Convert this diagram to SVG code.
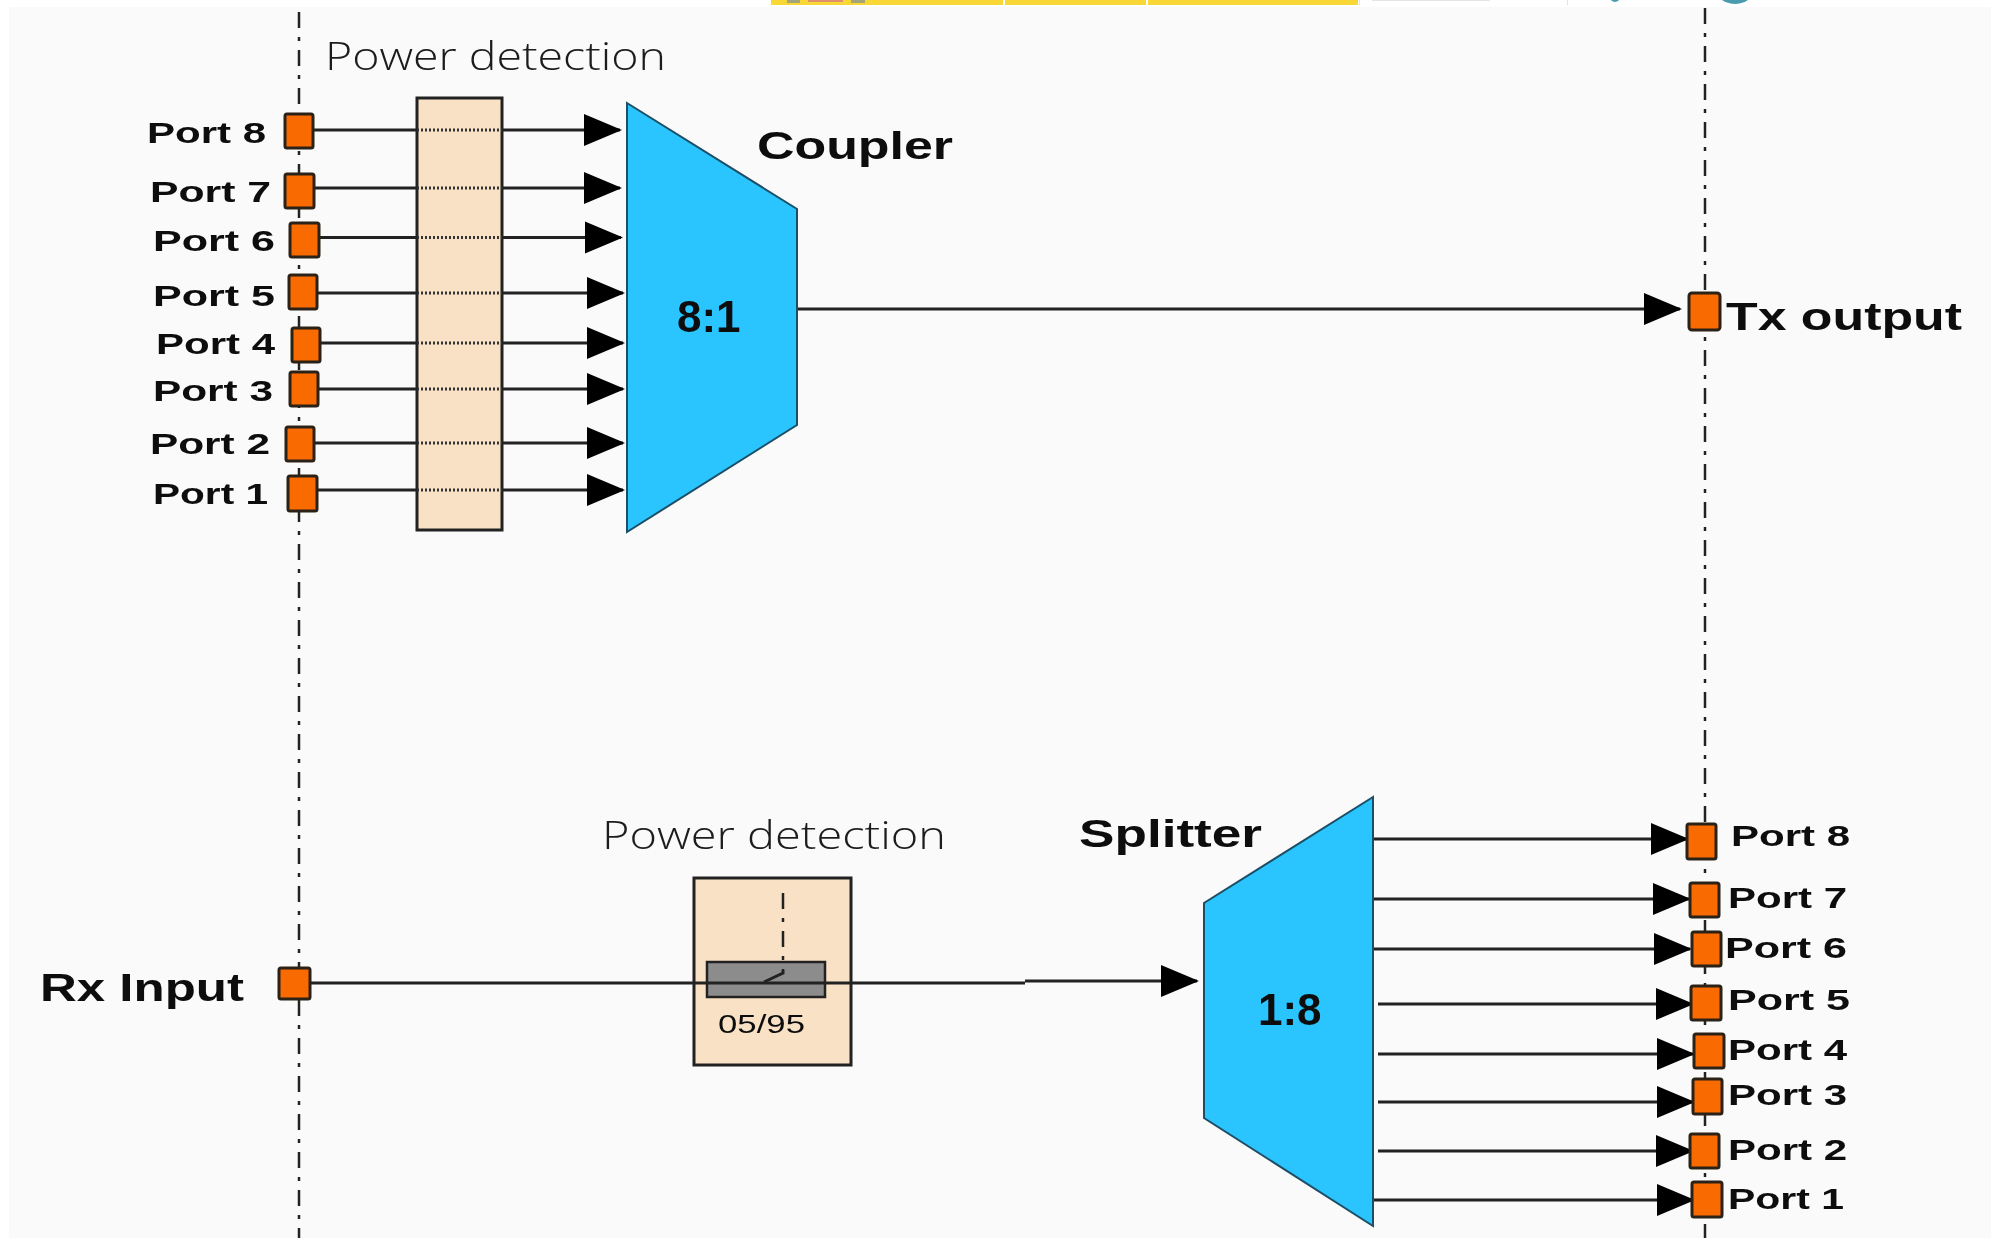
<svg xmlns="http://www.w3.org/2000/svg" width="1991" height="1238" viewBox="0 0 1991 1238">
<style>
text{font-family:"Liberation Sans",Arial,sans-serif;fill:#0c0c0c}
.p{font-size:29px;font-weight:700}
.big{font-size:38px;font-weight:700}
.r{font-size:44px;font-weight:700}
.t{font-family:"Open Sans","Liberation Sans",sans-serif;font-weight:300;font-size:38px;fill:#1c1c1c}
.box{fill:#f96a00;stroke:#2a2018;stroke-width:3}
.mux{fill:#29c5ff;stroke:#1f4f66;stroke-width:2}
.pd{fill:#f8e1c4;stroke:#222;stroke-width:3}
.c{stroke:#222;stroke-width:3;fill:none}
.a{marker-end:url(#h)}
.d{stroke:#333;stroke-width:3;stroke-dasharray:2 2;fill:none}
.v{stroke:#222;stroke-width:2.5;stroke-dasharray:16 9 4 9;fill:none}
</style>
<defs>
<marker id="h" markerUnits="userSpaceOnUse" markerWidth="38" markerHeight="34" refX="36" refY="17" orient="auto"><path d="M0 1L38 17L0 33Z" fill="#000"/></marker>
<filter id="s" x="-2%" y="-2%" width="104%" height="104%"><feGaussianBlur stdDeviation="0.7"/></filter>
</defs>
<rect id="page" width="1991" height="1238" fill="#fff"/>
<rect id="panel" x="9" y="7" width="1982" height="1231" fill="#fafafa"/>
<g id="header-strip">
<rect x="771" y="0" width="232" height="5" fill="#f9d835"/>
<rect x="1005" y="0" width="141" height="5" fill="#f9d835"/>
<rect x="1148" y="0" width="210" height="5" fill="#f9d835"/>
<rect x="787" y="0" width="13" height="3" fill="#a3a578"/>
<rect x="808" y="0" width="35" height="2" fill="#e0906a"/>
<rect x="851" y="0" width="14" height="3" fill="#a3a578"/>
<rect x="1372" y="0" width="118" height="1" fill="#e4e4e4"/>
<rect x="1359" y="0" width="1" height="5" fill="#e4e4e4"/>
<rect x="1567" y="0" width="1" height="5" fill="#e4e4e4"/>
<circle cx="1615" cy="-3" r="5" fill="#4a9ab0"/>
<circle cx="1735" cy="-19" r="23" fill="#4a9ab0"/>
</g>
<g filter="url(#s)">
<g id="reference-lines">
<line class="v" x1="299" y1="12" x2="299" y2="1238"/>
<line class="v" x1="1705" y1="8" x2="1705" y2="1238"/>
</g>
<g id="power-detection-tx">
<rect class="pd" x="417" y="98" width="85" height="432"/>
<text class="t" x="325" y="70" textLength="341" lengthAdjust="spacingAndGlyphs">Power detection</text>
<path class="d" d="M417 130H502M417 188H502M417 237.500H502M417 293H502M417 343H502M417 389H502M417 443H502M417 490H502"/>
</g>
<g id="power-detection-rx">
<rect class="pd" x="694" y="878" width="157" height="187"/>
<rect x="707" y="962" width="118" height="35" fill="#8c8c8c" stroke="#222" stroke-width="2.500"/>
<text class="t" x="602" y="849" textLength="344" lengthAdjust="spacingAndGlyphs">Power detection</text>
<text x="718" y="1033" font-size="25" fill="#333" textLength="87" lengthAdjust="spacingAndGlyphs">05/95</text>
</g>
<g id="connectors">
<path class="c" d="M313 130H417M315 188H417M319 237.500H417M317 293H417M320 343H417M318 389H417M315 443H417M317 490H417"/>
<line class="c a" x1="502" y1="130" x2="620" y2="130"/>
<line class="c a" x1="502" y1="188" x2="620" y2="188"/>
<line class="c a" x1="502" y1="237.500" x2="621" y2="237.500"/>
<line class="c a" x1="502" y1="293" x2="623" y2="293"/>
<line class="c a" x1="502" y1="343" x2="623" y2="343"/>
<line class="c a" x1="502" y1="389" x2="623" y2="389"/>
<line class="c a" x1="502" y1="443" x2="623" y2="443"/>
<line class="c a" x1="502" y1="490" x2="623" y2="490"/>
<line class="c a" x1="797" y1="309" x2="1680" y2="309"/>
<line class="c" x1="310" y1="983" x2="1025" y2="983" stroke-width="2.500"/>
<line class="c a" x1="1025" y1="981" x2="1197" y2="981"/>
<line class="v" x1="783" y1="893" x2="783" y2="970"/>
<path class="c" d="M783 970V973L764 982" stroke-width="2.500"/>
<line class="c a" x1="1373" y1="839" x2="1687" y2="839"/>
<line class="c a" x1="1373" y1="899" x2="1689" y2="899"/>
<line class="c a" x1="1373" y1="949" x2="1690" y2="949"/>
<line class="c a" x1="1378" y1="1004" x2="1692" y2="1004"/>
<line class="c a" x1="1378" y1="1054" x2="1693" y2="1054"/>
<line class="c a" x1="1378" y1="1102" x2="1693" y2="1102"/>
<line class="c a" x1="1378" y1="1151" x2="1692" y2="1151"/>
<line class="c a" x1="1373" y1="1200" x2="1693" y2="1200"/>
</g>
<g id="coupler">
<path class="mux" d="M627 103L797 209V425L627 532Z"/>
<text class="r" x="677" y="332">8:1</text>
<text class="big" x="757" y="159" textLength="196" lengthAdjust="spacingAndGlyphs">Coupler</text>
</g>
<g id="splitter">
<path class="mux" d="M1373 797L1204 903V1118L1373 1226Z"/>
<text class="r" x="1258" y="1025">1:8</text>
<text class="big" x="1079" y="847" textLength="183" lengthAdjust="spacingAndGlyphs">Splitter</text>
</g>
<g id="tx-port-8"><rect class="box" x="285" y="114" width="28" height="34" rx="2"/><text class="p" x="147" y="143" textLength="119" lengthAdjust="spacingAndGlyphs">Port 8</text></g>
<g id="tx-port-7"><rect class="box" x="285" y="174" width="29" height="34" rx="2"/><text class="p" x="150" y="202" textLength="121" lengthAdjust="spacingAndGlyphs">Port 7</text></g>
<g id="tx-port-6"><rect class="box" x="290" y="223" width="29" height="34" rx="2"/><text class="p" x="153" y="251" textLength="122" lengthAdjust="spacingAndGlyphs">Port 6</text></g>
<g id="tx-port-5"><rect class="box" x="289" y="275" width="28" height="34" rx="2"/><text class="p" x="153" y="306" textLength="122" lengthAdjust="spacingAndGlyphs">Port 5</text></g>
<g id="tx-port-4"><rect class="box" x="292" y="328" width="28" height="34" rx="2"/><text class="p" x="156" y="354" textLength="119" lengthAdjust="spacingAndGlyphs">Port 4</text></g>
<g id="tx-port-3"><rect class="box" x="290" y="372" width="28" height="34" rx="2"/><text class="p" x="153" y="401" textLength="120" lengthAdjust="spacingAndGlyphs">Port 3</text></g>
<g id="tx-port-2"><rect class="box" x="286" y="427" width="28" height="34" rx="2"/><text class="p" x="150" y="454" textLength="120" lengthAdjust="spacingAndGlyphs">Port 2</text></g>
<g id="tx-port-1"><rect class="box" x="288" y="476" width="29" height="35" rx="2"/><text class="p" x="153" y="504" textLength="115" lengthAdjust="spacingAndGlyphs">Port 1</text></g>
<g id="tx-output"><rect class="box" x="1689" y="293" width="31" height="37" rx="3"/><text class="big" x="1726" y="330" textLength="236" lengthAdjust="spacingAndGlyphs">Tx output</text></g>
<g id="rx-input"><rect class="box" x="279" y="968" width="31" height="31" rx="2"/><text class="big" x="40" y="1001" textLength="204" lengthAdjust="spacingAndGlyphs">Rx Input</text></g>
<g id="rx-port-8"><rect class="box" x="1687" y="824" width="29" height="35" rx="2"/><text class="p" x="1731" y="846" textLength="119" lengthAdjust="spacingAndGlyphs">Port 8</text></g>
<g id="rx-port-7"><rect class="box" x="1690" y="883" width="29" height="34" rx="2"/><text class="p" x="1728" y="908" textLength="119" lengthAdjust="spacingAndGlyphs">Port 7</text></g>
<g id="rx-port-6"><rect class="box" x="1692" y="932" width="29" height="34" rx="2"/><text class="p" x="1725" y="958" textLength="122" lengthAdjust="spacingAndGlyphs">Port 6</text></g>
<g id="rx-port-5"><rect class="box" x="1691" y="986" width="30" height="34" rx="2"/><text class="p" x="1728" y="1010" textLength="122" lengthAdjust="spacingAndGlyphs">Port 5</text></g>
<g id="rx-port-4"><rect class="box" x="1694" y="1034" width="30" height="34" rx="2"/><text class="p" x="1728" y="1060" textLength="119" lengthAdjust="spacingAndGlyphs">Port 4</text></g>
<g id="rx-port-3"><rect class="box" x="1693" y="1079" width="29" height="35" rx="2"/><text class="p" x="1728" y="1105" textLength="119" lengthAdjust="spacingAndGlyphs">Port 3</text></g>
<g id="rx-port-2"><rect class="box" x="1690" y="1134" width="29" height="34" rx="2"/><text class="p" x="1728" y="1160" textLength="119" lengthAdjust="spacingAndGlyphs">Port 2</text></g>
<g id="rx-port-1"><rect class="box" x="1692" y="1182" width="30" height="35" rx="2"/><text class="p" x="1728" y="1209" textLength="116" lengthAdjust="spacingAndGlyphs">Port 1</text></g>
</g>
</svg>
